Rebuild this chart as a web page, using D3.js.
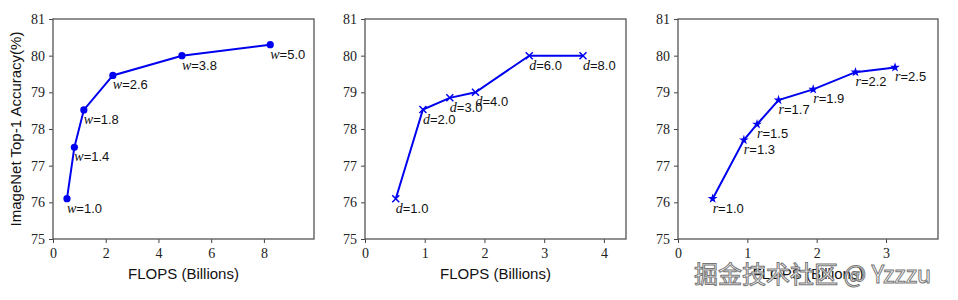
<!DOCTYPE html>
<html lang="en">
  <head>
    <meta charset="UTF-8" />
    <style>
      body { margin: 0; background: #fff; }
      svg { display: block; }
      .tick text { font-family: "Liberation Serif", serif; font-size: 14px; fill: #222; }
      .tick line { stroke: #444; }
      .frame { fill: none; stroke: #555; stroke-width: 1.3; }
      .axlabel { font-family: "Liberation Sans", Arial, sans-serif; font-size: 15px; fill: #111; }
      .pt { font-family: "Liberation Sans", Arial, sans-serif; font-size: 13px; fill: #111; }
      .pt .v { font-family: "Liberation Serif", serif; font-style: italic; font-size: 14px; }
    </style>
    <script src="https://d3js.org/d3.v7.min.js"></script>
    <title>Scaling</title>
  </head>
  <body>
    <script>
      // width scaling
      var widthFlops = [0.53, 0.81, 1.17, 2.27, 4.89, 8.24];
      var widthAcc = [76.1, 77.5, 78.52, 79.46, 80.0, 80.3];
      var widthLabels = ["1.0", "1.4", "1.8", "2.6", "3.8", "5.0"];
      // depth scaling
      var depthFlops = [0.515, 0.97, 1.42, 1.85, 2.75, 3.65];
      var depthAcc = [76.1, 78.53, 78.85, 79.0, 80.0, 80.0];
      var depthLabels = ["1.0", "2.0", "3.0", "4.0", "6.0", "8.0"];
      // resolution scaling
      var resFlops = [0.5, 0.95, 1.14, 1.45, 1.95, 2.56, 3.13];
      var resAcc = [76.1, 77.7, 78.13, 78.79, 79.08, 79.55, 79.68];
      var resLabels = ["1.0", "1.3", "1.5", "1.7", "1.9", "2.2", "2.5"];

      var yTicks = [75, 76, 77, 78, 79, 80, 81];

      var panels = [
        { left: 53, right: 314, xmax: 9.9, ticks: [0, 2, 4, 6, 8], flops: widthFlops, acc: widthAcc, labels: widthLabels, v: "w", marker: "circle" },
        { left: 365, right: 626, xmax: 4.37, ticks: [0, 1, 2, 3, 4], flops: depthFlops, acc: depthAcc, labels: depthLabels, v: "d", marker: "x" },
        { left: 678, right: 938, xmax: 3.75, ticks: [0, 1, 2, 3], flops: resFlops, acc: resAcc, labels: resLabels, v: "r", marker: "star" }
      ];

      var plotTop = 19, plotBottom = 239;
      var svg = d3.select("body").append("svg").attr("width", 958).attr("height", 300);

      var y = d3.scaleLinear().domain([75, 81]).range([plotBottom, plotTop]);

      panels.forEach(function (p) {
        var x = d3.scaleLinear().domain([0, p.xmax]).range([p.left, p.right]);
        var g = svg.append("g");

        g.append("g")
          .attr("transform", "translate(" + p.left + ",0)")
          .call(d3.axisLeft(y).tickValues(yTicks).tickFormat(d3.format("d")).tickSize(4).tickPadding(4))
          .select(".domain").remove();
        g.append("g")
          .attr("transform", "translate(0," + plotBottom + ")")
          .call(d3.axisBottom(x).tickValues(p.ticks).tickFormat(d3.format("d")).tickSize(4).tickPadding(5))
          .select(".domain").remove();

        g.append("rect").attr("class", "frame")
          .attr("x", p.left).attr("y", plotTop)
          .attr("width", p.right - p.left).attr("height", plotBottom - plotTop);

        var pts = p.flops.map(function (f, k) { return [f, p.acc[k], p.labels[k]]; });

        g.append("path")
          .datum(pts)
          .attr("fill", "none")
          .attr("stroke", "#0000f0")
          .attr("stroke-width", 2)
          .attr("d", d3.line().x(function (d) { return x(d[0]); }).y(function (d) { return y(d[1]); }));

        var m = g.selectAll(".m").data(pts).enter().append("g")
          .attr("transform", function (d) { return "translate(" + x(d[0]) + "," + y(d[1]) + ")"; });
        if (p.marker === "circle") {
          m.append("circle").attr("r", 3.6).attr("fill", "#0000f0");
        } else if (p.marker === "x") {
          m.append("path").attr("d", "M-3.5,-3.5L3.5,3.5M-3.5,3.5L3.5,-3.5")
            .attr("stroke", "#0000f0").attr("stroke-width", 1.5);
        } else {
          m.append("path").attr("d", d3.symbol().type(d3.symbolStar).size(30))
            .attr("fill", "#0000f0");
        }

        var t = g.selectAll(".pt").data(pts).enter().append("text")
          .attr("class", "pt")
          .attr("x", function (d) { return x(d[0]); })
          .attr("y", function (d) { return y(d[1]) + 14; });
        t.append("tspan").attr("class", "v").text(p.v);
        t.append("tspan").text(function (d) { return "=" + d[2]; });

        g.append("text").attr("class", "axlabel")
          .attr("x", (p.left + p.right) / 2).attr("y", 279)
          .attr("text-anchor", "middle")
          .text("FLOPS (Billions)");
      });

      svg.append("text").attr("class", "axlabel")
        .attr("transform", "translate(21," + (plotTop + plotBottom) / 2 + ") rotate(-90)")
        .attr("text-anchor", "middle")
        .text("ImageNet Top-1 Accuracy(%)");

      // watermark
      svg.append("text")
        .attr("x", 694).attr("y", 283)
        .attr("font-family", "'Noto Sans CJK SC', sans-serif")
        .attr("font-size", 24)
        .attr("fill", "#fff")
        .attr("stroke", "#777")
        .attr("stroke-width", 1)
        .text("掘金技术社区 @ Yzzzu");
    </script>
  </body>
</html>
